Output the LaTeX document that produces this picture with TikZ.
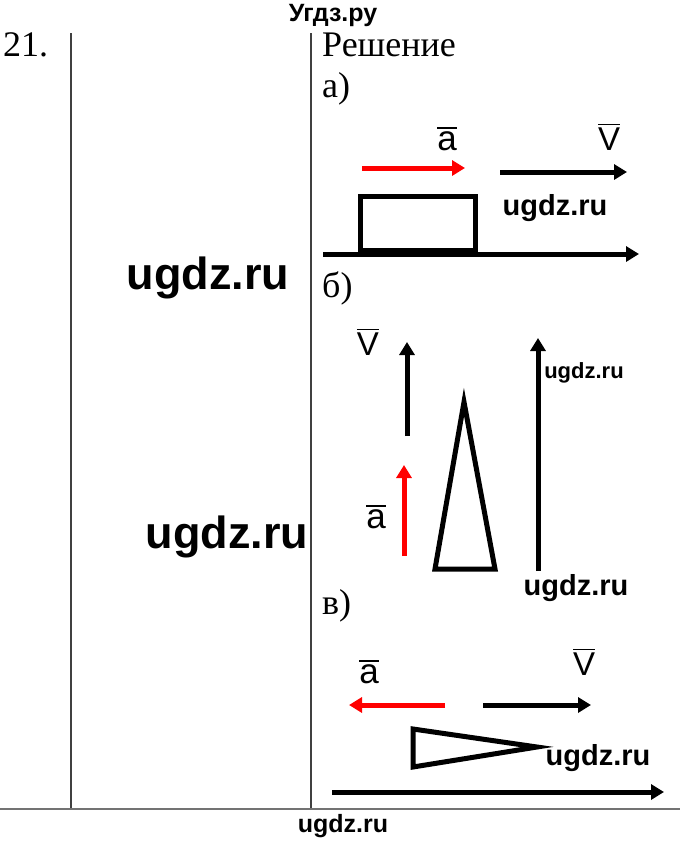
\documentclass[tikz,border=0pt]{standalone}
\usepackage{fontspec}
\setmainfont{Liberation Serif}
\newfontfamily\wmfont{Liberation Sans}
\usepackage{tikz}
\usetikzlibrary{arrows.meta}
\newcommand\barlbl[1]{\vbox{\hrule height 1.8pt\kern2.5pt\hbox{#1}}}
\tikzset{
  vec/.style={line width=5pt, -{Triangle[length=13pt,width=15pt]}},
  accvec/.style={vec, red},
  body/.style={line width=5pt, line join=miter},
  rule/.style={line width=1.3pt, black!75},
  wm/.style={font=\wmfont\bfseries\fontsize{#1}{#1}\selectfont, inner sep=0pt},
  vlabel/.style={font=\wmfont\fontsize{#1}{#1}\selectfont, inner sep=0pt},
  serif/.style={font=\fontsize{36}{36}\selectfont, inner sep=0pt, anchor=west}
}
\begin{document}
\begin{tikzpicture}[x=1pt,y=-1pt]
\useasboundingbox (0,0) rectangle (680,841);
% table frame
\draw[rule] (71,33) -- (71,809); \draw[rule] (311,33) -- (311,809);
\draw[rule, black!55] (0,809) -- (680,809);
\node[wm=25] at (333,15) (top) {Угдз.ру};
\node[serif] at (3,45) (num) {21.};
\node[serif] at (322,45) (sol) {Решение};
% a)
\node[serif] at (322,89) (parta) {а)};
\node[vlabel=35] at (447,139) (la) {\barlbl{a}};
\node[vlabel=33] at (609,137) (lv) {\barlbl{V}};
\draw[accvec] (362,168) -- (465,168);
\draw[vec] (500,172) -- (627,172);
\draw[body] (360,250) rectangle (475,196);
\draw[vec] (323,254) -- (639,254);
\node[wm=29] at (555,208) (wma) {ugdz.ru};
\node[wm=45] at (208,278) (wmbig1) {ugdz.ru};
% b)
\node[serif] at (322,288) (partb) {б)};
\node[vlabel=33] at (368,342) (lvb) {\barlbl{V}};
\draw[vec] (407,436) -- (407,342);
\node[vlabel=35] at (376,517) (lab) {\barlbl{a}};
\draw[accvec] (404,556) -- (404,465);
\draw[body] (464,402) -- (495,569) -- (435,569) -- cycle;
\draw[vec] (538,571) -- (538,338);
\node[wm=22] at (584,373) (wmb) {ugdz.ru};
\node[wm=45] at (227,537) (wmbig2) {ugdz.ru};
\node[wm=29] at (576,588) (wmb2) {ugdz.ru};
% c)
\node[serif] at (322,606) (partc) {в)};
\node[vlabel=35] at (369,672) (lac) {\barlbl{a}};
\node[vlabel=33] at (584,662) (lvc) {\barlbl{V}};
\draw[accvec] (445,705) -- (349,705);
\draw[vec] (483,705) -- (591,705);
\draw[body] (413,729) -- (413,767) -- (537,747) -- cycle;
\node[wm=29] at (598,758) (wmc) {ugdz.ru};
\draw[vec] (332,792) -- (664,792);
\node[wm=25] at (343,826) (wmbot) {ugdz.ru};
\end{tikzpicture}
\end{document}
